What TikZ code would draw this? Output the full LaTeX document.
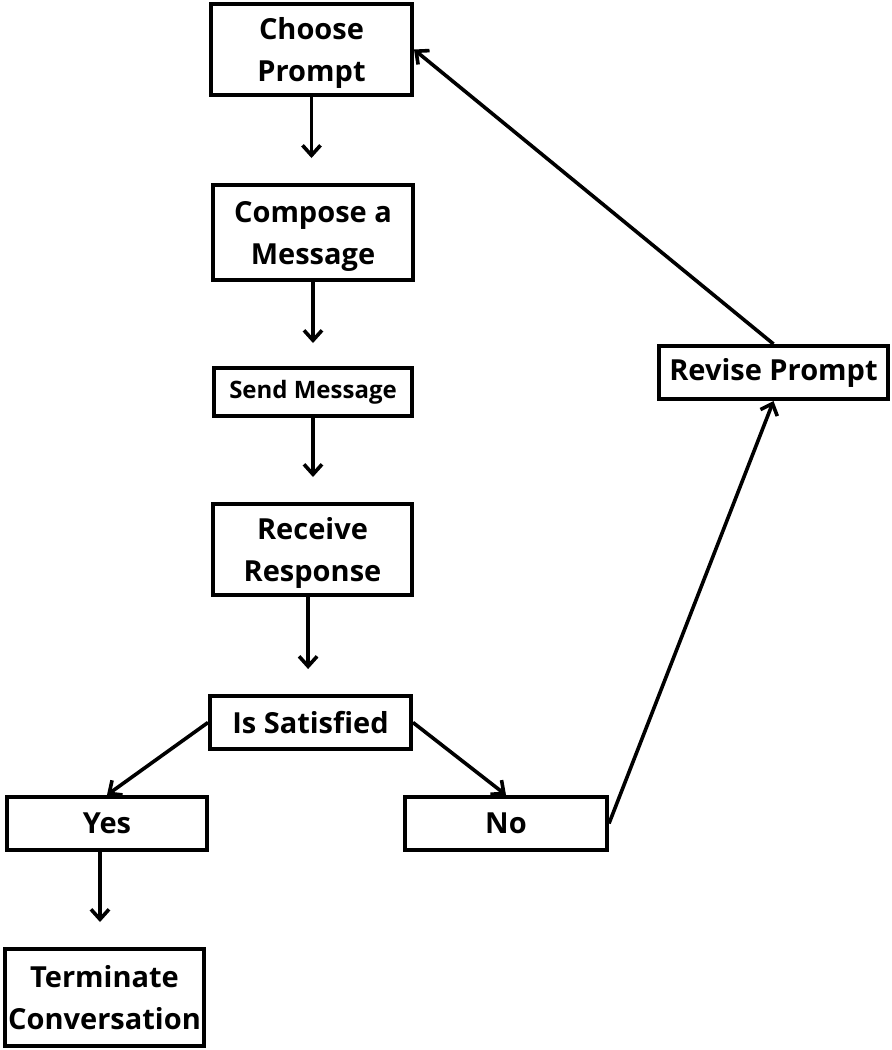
\documentclass[tikz,border=0pt]{standalone}
\usepackage{fontspec}
\setmainfont{Open Sans}
\usetikzlibrary{arrows.meta}
\tikzset{>={Straight Barb[length=5pt,width=9pt]}}
\tikzset{box/.style={draw, line width=2pt, inner sep=0pt, align=center, font=\fontsize{14.5}{21}\selectfont\bfseries}}
\tikzset{small/.style={font=\fontsize{12}{14}\selectfont\bfseries}}
\tikzset{twoline/.style={text depth=-1.5pt}}
\tikzset{flow/.style={->, line width=1.8pt}}

\begin{document}
\begin{tikzpicture}[x=0.5pt, y=-0.5pt]
\useasboundingbox (0,0) rectangle (892,1050);

% main column
\node[box, twoline, minimum width=100.5pt, minimum height=45.5pt] (choose) at (311.5, 49.5) {Choose\\Prompt};
\node[box, twoline, minimum width=100pt, minimum height=47.5pt] (compose) at (313, 232.5) {Compose a\\Message};
\node[box, small, minimum width=99pt, minimum height=24pt] (send) at (313, 392) {Send Message};
\node[box, twoline, minimum width=99.5pt, minimum height=45.5pt] (receive) at (312.5, 549.5) {Receive\\Response};
\node[box, minimum width=100.5pt, minimum height=26.5pt] (sat) at (310.5, 722.5) {Is Satisfied};

% branches
\node[box, minimum width=100pt, minimum height=26.5pt] (yes) at (107, 823.5) {Yes};
\node[box, minimum width=101pt, minimum height=26.5pt] (no) at (506, 823.5) {No};
\node[box, twoline, minimum width=99.5pt, minimum height=48.5pt] (term) at (104.5, 997.5) {Terminate\\Conversation};
\node[box, minimum width=114.5pt, minimum height=26.5pt] (revise) at (773.5, 372.5) {Revise Prompt};

% straight down
\draw[flow, shorten >=12.5pt] (choose.south) -- (choose.south |- compose.north);
\draw[flow, shorten >=11.5pt] (compose.south) -- (compose.south |- send.north);
\draw[flow, shorten >=12.5pt] (send.south) -- (send.south |- receive.north);
\draw[flow, shorten >=12.5pt] ([xshift=-2.2pt]receive.south) -- ([xshift=-2.2pt]receive.south |- sat.north);
\draw[flow, shorten >=12.5pt] ([xshift=-3.5pt]yes.south) -- ([xshift=-3.5pt]yes.south |- term.north);

% decision and loop back
\draw[flow] (sat.west) -- (yes.north);
\draw[flow] (sat.east) -- (no.north);
\draw[flow] (no.east) -- (revise.south);
\draw[flow] (revise.north) -- (choose.east);

\end{tikzpicture}
\end{document}
